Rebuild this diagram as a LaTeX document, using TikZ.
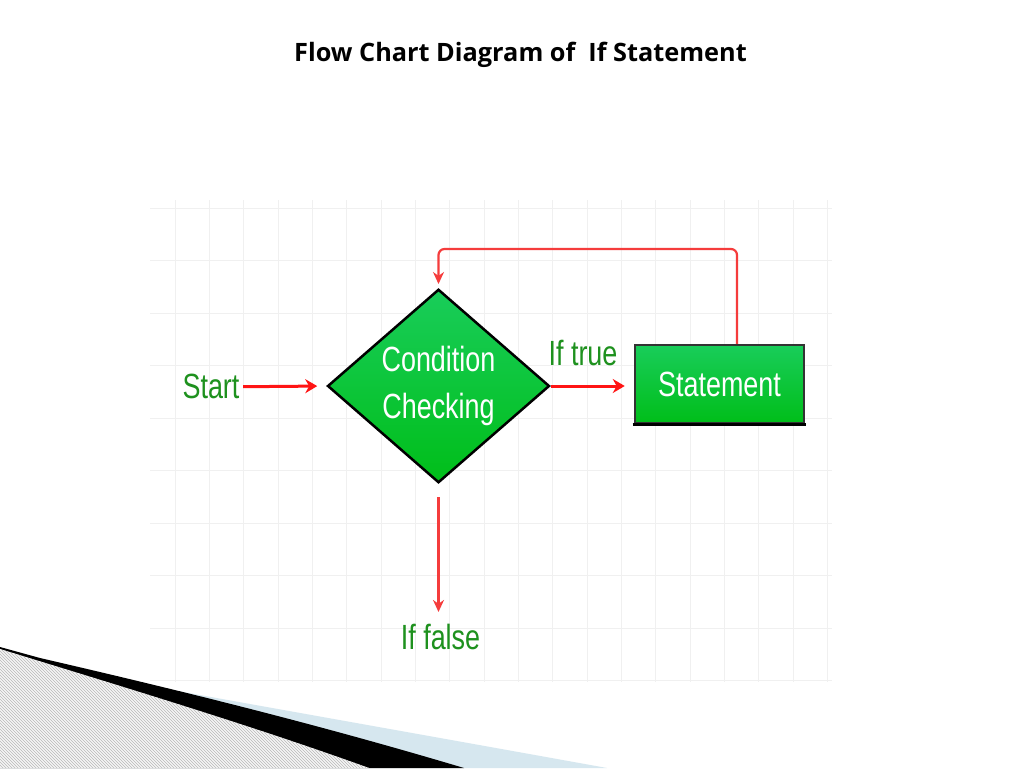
\documentclass[tikz,border=0pt]{standalone}
\usepackage[]{xcolor}
\usepackage{fontspec}
\usetikzlibrary{shapes.geometric,arrows.meta,patterns}
\newfontfamily\titlefont{Open Sans}
\newfontfamily\chartfont[FakeStretch=0.77]{Liberation Sans}
\definecolor{chartred}{RGB}{255,20,20}
\definecolor{loopred}{RGB}{245,60,60}
\definecolor{labelgreen}{RGB}{30,145,30}
\definecolor{fillgreentop}{RGB}{25,205,90}
\definecolor{fillgreenbottom}{RGB}{0,190,25}
\definecolor{gridgray}{RGB}{240,240,240}
\definecolor{swooshblue}{RGB}{214,231,239}

\begin{document}
\begin{tikzpicture}[
            x=1pt, y=-1pt,
            decision/.style={diamond, draw=black, line width=2.5pt, top color=fillgreentop, bottom color=fillgreenbottom, minimum width=222pt, minimum height=193pt, inner sep=0pt, text=white, align=center, font=\chartfont\fontsize{35}{47}\selectfont},
            process/.style={rectangle, draw=black!80, line width=2.5pt, top color=fillgreentop, bottom color=fillgreenbottom, minimum width=169pt, minimum height=78pt, inner sep=0pt, text=white, font=\chartfont\fontsize{35}{42}\selectfont},
            chartlabel/.style={text=labelgreen, inner sep=0pt, anchor=base, font=\chartfont\fontsize{35}{42}\selectfont},
            gridline/.style={draw=gridgray, line width=1pt},
            flow/.style={-{Stealth[length=12pt,width=14pt]}, chartred, line width=3pt},
            loopback/.style={-{Stealth[length=12pt,width=11pt]}, loopred, line width=2.2pt}
        ]
            \useasboundingbox (0,0) rectangle (1024,768);
            \fill[white] (0,0) rectangle (1024,768);

            \foreach \gx in {0,...,19}
                \draw[gridline] ({175+34.35*\gx},200) -- ({175+34.35*\gx},682);
            \foreach \gy in {0,...,9}
                \draw[gridline] (150,{208+52.5*\gy}) -- (832,{208+52.5*\gy});

            \fill[swooshblue] (100,677) .. controls (260,706) and (430,736) .. (607,768) -- (0,768) -- cycle;
            \fill[black] (0,647) -- (40,658) .. controls (200,695) and (330,728) .. (464,768) -- (0,768) -- cycle;
            \fill[gray!8] (0,649) .. controls (120,686) and (250,725) .. (369,768) -- (0,768) -- cycle;
            \fill[pattern=north west lines, pattern color=gray!55] (0,649) .. controls (120,686) and (250,725) .. (369,768) -- (0,768) -- cycle;

            \node[anchor=base, inner sep=0pt, font=\titlefont\bfseries\fontsize{25.3}{30}\selectfont] (title) at (520.5,62) {Flow Chart Diagram of~~If Statement};

            \node[chartlabel] (start) at (211,398.8) {Start};
            \node[decision] (cond) at (438.5,386) {Condition\\Checking};
            \node[process] (stmt) at (719.5,384) {Statement};
            \node[chartlabel] (truelbl) at (583,365) {If true};
            \node[chartlabel] (falselbl) at (440.5,649) {If false};
            \coordinate (loop) at (737,249);

            \draw[line width=3.5pt, black] ([xshift=-1.2pt]stmt.south west) -- ([xshift=1.2pt]stmt.south east);

            \draw[flow, shorten <=3.5pt, shorten >=9pt] (start.east) -- (cond.west);
            \draw[flow, shorten >=9pt] (cond.east) -- (cond.east -| stmt.west);
            \draw[loopback, rounded corners=6pt, shorten >=4pt] (stmt.north -| loop) -- (loop) -| (cond.north);
            \draw[loopback, shorten <=13pt, shorten >=11.5pt] (cond.south) -- (cond.south |- falselbl.north);
        \end{tikzpicture}
\end{document}
